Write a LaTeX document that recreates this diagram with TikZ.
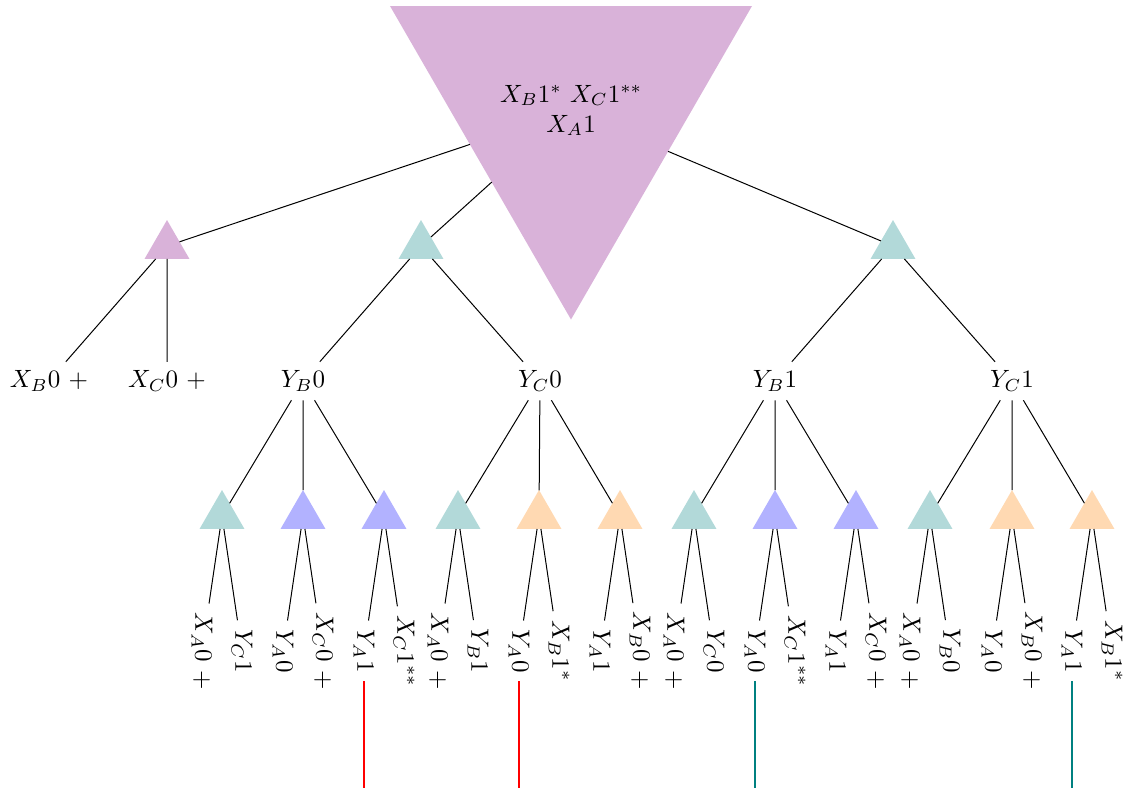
\documentclass[tikz,border=0pt]{standalone}
\usetikzlibrary{shapes.geometric}

\tikzset{
  tri/.style={regular polygon, regular polygon sides=3, minimum size=20.78pt,
              inner sep=0pt, outer sep=0pt},
  trV/.style={tri, fill=violet!30},
  trT/.style={tri, fill=teal!30},
  trB/.style={tri, fill=blue!30},
  trO/.style={tri, fill=orange!30},
  rootnode/.style={regular polygon, regular polygon sides=3, shape border rotate=180,
              minimum size=167.2pt, inner sep=0pt, outer sep=0pt,
              fill=violet!30, align=center},
  leaf/.style={rotate=-90},
  edge/.style={draw=black, line width=0.4pt},
  redline/.style={draw=red, line width=1.1pt},
  tealline/.style={draw=teal, line width=1.1pt},
}

\begin{document}
\begin{tikzpicture}[x=0.4pt, y=-0.4pt]
\useasboundingbox (0,0) rectangle (1129,788);
\coordinate (bot) at (0,788);

% root
\node[rootnode] (r) at (571,110.5) {$X_B1^*$ $X_C1^{**}$\\ $X_A1$};

% first level
\node[trV] (a) at (167,246) {};
\node[trT] (b) at (421,246) {};
\node[trT] (c) at (893,246) {};

% second level
\node (a1) at (49,381)  {$X_B0$ $+$};
\node (a2) at (167,381) {$X_C0$ $+$};
\node (b1) at (303,381) {$Y_B0$};
\node (b2) at (540,381) {$Y_C0$};
\node (c1) at (775,381) {$Y_B1$};
\node (c2) at (1012,381) {$Y_C1$};

% third level
\node[trT] (t1)  at (222,516)  {};
\node[trB] (t2)  at (303,516)  {};
\node[trB] (t3)  at (384,516)  {};
\node[trT] (t4)  at (458,516)  {};
\node[trO] (t5)  at (539,516)  {};
\node[trO] (t6)  at (620,516)  {};
\node[trT] (t7)  at (694,516)  {};
\node[trB] (t8)  at (775,516)  {};
\node[trB] (t9)  at (856,516)  {};
\node[trT] (t10) at (930,516)  {};
\node[trO] (t11) at (1012,516) {};
\node[trO] (t12) at (1092,516) {};

% leaves
\node[leaf] (l1a)  at (202,651)  {$X_A0$ $+$};
\node[leaf] (l1b)  at (242,651)  {$Y_C1$};
\node[leaf] (l2a)  at (283,651)  {$Y_A0$};
\node[leaf] (l2b)  at (323,651)  {$X_C0$ $+$};
\node[leaf] (l3a)  at (364,651)  {$Y_A1$};
\node[leaf] (l3b)  at (404,651)  {$X_C1^{**}$};
\node[leaf] (l4a)  at (438,651)  {$X_A0$ $+$};
\node[leaf] (l4b)  at (478,651)  {$Y_B1$};
\node[leaf] (l5a)  at (519,651)  {$Y_A0$};
\node[leaf] (l5b)  at (559,651)  {$X_B1^*$};
\node[leaf] (l6a)  at (600,651)  {$Y_A1$};
\node[leaf] (l6b)  at (640,651)  {$X_B0$ $+$};
\node[leaf] (l7a)  at (674,651)  {$X_A0$ $+$};
\node[leaf] (l7b)  at (714,651)  {$Y_C0$};
\node[leaf] (l8a)  at (755,651)  {$Y_A0$};
\node[leaf] (l8b)  at (795,651)  {$X_C1^{**}$};
\node[leaf] (l9a)  at (836,651)  {$Y_A1$};
\node[leaf] (l9b)  at (876,651)  {$X_C0$ $+$};
\node[leaf] (l10a) at (910,651)  {$X_A0$ $+$};
\node[leaf] (l10b) at (950,651)  {$Y_B0$};
\node[leaf] (l11a) at (992,651)  {$Y_A0$};
\node[leaf] (l11b) at (1032,651) {$X_B0$ $+$};
\node[leaf] (l12a) at (1072,651) {$Y_A1$};
\node[leaf] (l12b) at (1112,651) {$X_B1^*$};

% loose ends of the coloured edges
\coordinate (e3)  at (l3a |- bot);
\coordinate (e5)  at (l5a |- bot);
\coordinate (e8)  at (l8a |- bot);
\coordinate (e12) at (l12a |- bot);

% edges
\path[edge] (r) -- (a) (r) -- (b) (r) -- (c);
\path[edge] (a) -- (a1) (a) -- (a2);
\path[edge] (b) -- (b1) (b) -- (b2);
\path[edge] (c) -- (c1) (c) -- (c2);
\path[edge] (b1) -- (t1) (b1) -- (t2) (b1) -- (t3);
\path[edge] (b2) -- (t4) (b2) -- (t5) (b2) -- (t6);
\path[edge] (c1) -- (t7) (c1) -- (t8) (c1) -- (t9);
\path[edge] (c2) -- (t10) (c2) -- (t11) (c2) -- (t12);
\path[edge] (t1) -- (l1a) (t1) -- (l1b);
\path[edge] (t2) -- (l2a) (t2) -- (l2b);
\path[edge] (t3) -- (l3a) (t3) -- (l3b);
\path[edge] (t4) -- (l4a) (t4) -- (l4b);
\path[edge] (t5) -- (l5a) (t5) -- (l5b);
\path[edge] (t6) -- (l6a) (t6) -- (l6b);
\path[edge] (t7) -- (l7a) (t7) -- (l7b);
\path[edge] (t8) -- (l8a) (t8) -- (l8b);
\path[edge] (t9) -- (l9a) (t9) -- (l9b);
\path[edge] (t10) -- (l10a) (t10) -- (l10b);
\path[edge] (t11) -- (l11a) (t11) -- (l11b);
\path[edge] (t12) -- (l12a) (t12) -- (l12b);

\path[redline]  (l3a) -- (e3);
\path[redline]  (l5a) -- (e5);
\path[tealline] (l8a) -- (e8);
\path[tealline] (l12a) -- (e12);
\end{tikzpicture}
\end{document}
